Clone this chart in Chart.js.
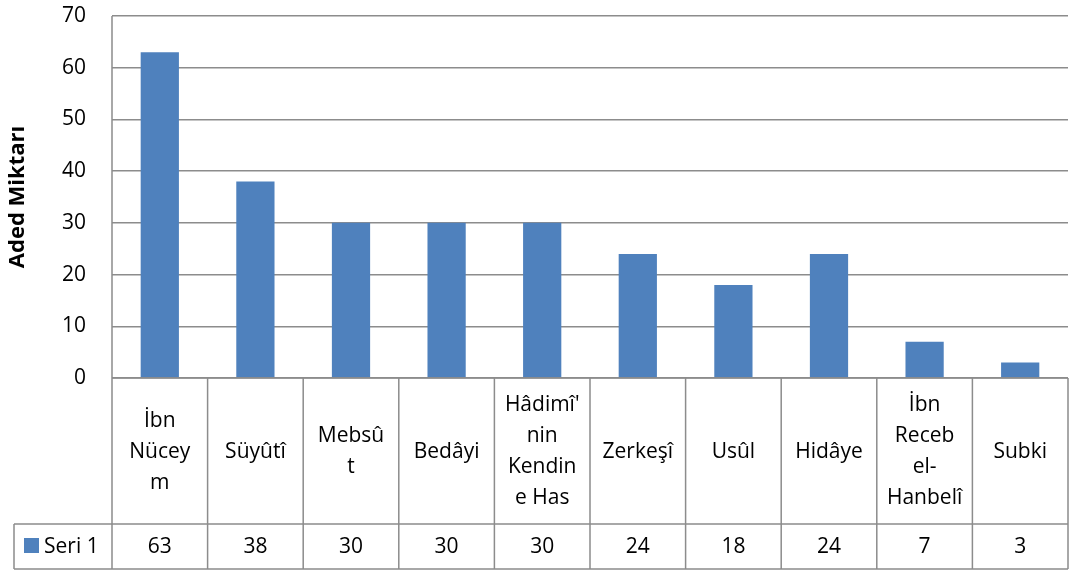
<!DOCTYPE html>
<html>
<head>
<meta charset="utf-8">
<script src="https://cdn.jsdelivr.net/npm/chart.js@4/dist/chart.umd.min.js"></script>
<style>
html,body{margin:0;padding:0;background:#fff;}
#wrap{width:1075px;height:571px;position:relative;}
</style>
</head>
<body>
<div id="wrap"><canvas id="c" width="1075" height="571"></canvas></div>
<script>
const categories = ["İbn Nüceym","Süyûtî","Mebsût","Bedâyi","Hâdimî'nin Kendine Has","Zerkeşî","Usûl","Hidâye","İbn Receb el-Hanbelî","Subki"];
const categoryLines = [["İbn","Nücey","m"],["Süyûtî"],["Mebsû","t"],["Bedâyi"],["Hâdimî'","nin","Kendin","e Has"],["Zerkeşî"],["Usûl"],["Hidâye"],["İbn","Receb","el-","Hanbelî"],["Subki"]];
const seriesName = "Seri 1";
const seri1 = [63,38,30,30,30,24,18,24,7,3];
const yMin = 0, yMax = 70, yStep = 10;
const yTitle = "Aded Miktarı";

const FONT = "'Open Sans'";
const GRID = "#8c8c8c";
const BAR = "#4f81bd";
const FSIZE = 21;

const tablePlugin = {
  id: 'dataTable',
  afterDraw(chart) {
    const ctx = chart.ctx;
    const x = chart.scales.x;
    const area = chart.chartArea;
    const n = categories.length;
    const left = area.left, right = area.right;
    const row1Top = area.bottom, row1Bot = 524, row2Bot = 569;
    const legendLeft = 14;
    const step = (right - left) / n;
    ctx.save();
    ctx.strokeStyle = GRID;
    ctx.lineWidth = 1.5;
    ctx.beginPath();
    ctx.moveTo(left, row1Top); ctx.lineTo(right, row1Top);
    ctx.moveTo(legendLeft, row1Bot); ctx.lineTo(right, row1Bot);
    ctx.moveTo(legendLeft, row2Bot); ctx.lineTo(right, row2Bot);
    ctx.moveTo(left, area.top); ctx.lineTo(left, row2Bot);
    ctx.moveTo(legendLeft, row1Bot); ctx.lineTo(legendLeft, row2Bot);
    for (let i = 1; i <= n; i++) {
      const xx = left + step * i;
      ctx.moveTo(xx, row1Top); ctx.lineTo(xx, row2Bot);
    }
    ctx.stroke();
    ctx.fillStyle = "#000";
    ctx.font = FSIZE + "px " + FONT;
    ctx.textAlign = "center";
    ctx.textBaseline = "middle";
    const lh = 31;
    const midRow1 = (row1Top + row1Bot) / 2 + 1;
    const midRow2 = (row1Bot + row2Bot) / 2 + 1;
    for (let i = 0; i < n; i++) {
      const cx = x.getPixelForValue(i);
      const lines = categoryLines[i];
      const start = midRow1 - (lines.length - 1) * lh / 2;
      lines.forEach((t, j) => ctx.fillText(t, cx, start + j * lh));
      ctx.fillText(String(seri1[i]), cx, midRow2);
    }
    ctx.fillStyle = BAR;
    ctx.fillRect(24, 538, 15, 15);
    ctx.fillStyle = "#000";
    ctx.textAlign = "left";
    ctx.fillText(seriesName, 44, midRow2);
    ctx.restore();
  }
};

new Chart(document.getElementById('c'), {
  type: 'bar',
  data: {
    labels: categories,
    datasets: [{
      label: seriesName,
      data: seri1,
      backgroundColor: BAR,
      borderWidth: 0,
      barPercentage: 0.4,
      categoryPercentage: 1.0
    }]
  },
  options: {
    responsive: false,
    animation: false,
    devicePixelRatio: 1,
    layout: { padding: { left: 0, right: 7, top: 16, bottom: 193 } },
    plugins: { legend: { display: false }, tooltip: { enabled: false } },
    scales: {
      x: { display: false },
      y: {
        min: yMin, max: yMax,
        ticks: { stepSize: yStep, padding: 26, color: "#000", font: { family: FONT, size: FSIZE } },
        grid: { color: GRID, lineWidth: 1.5, drawTicks: false },
        border: { display: false },
        title: { display: true, text: yTitle, color: "#000", font: { family: FONT, size: 22, weight: 'bold' }, padding: { top: 5, bottom: 0 } },
        afterFit(scale) { scale.width = 112; scale.paddingTop = 0; scale.paddingBottom = 0; }
      }
    }
  },
  plugins: [tablePlugin]
});
</script>
</body>
</html>
